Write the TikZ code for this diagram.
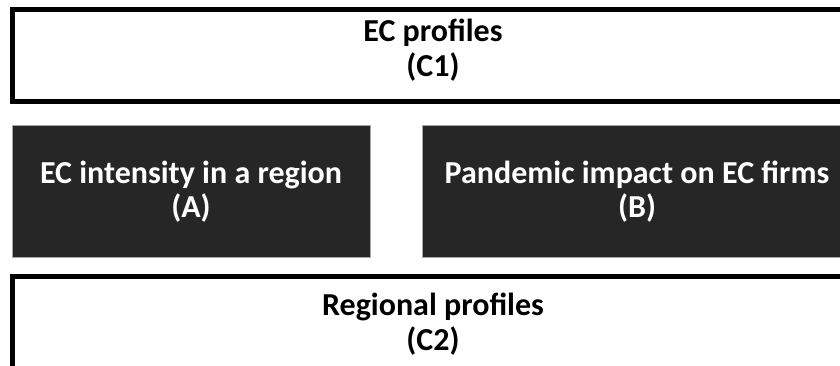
\documentclass[tikz,border=0pt]{standalone}
\usepackage{fontspec}
\setmainfont{Carlito}
\begin{document}
\begin{tikzpicture}[x=1pt,y=-1pt,
  outline/.style={draw=black, line width=5pt, fill=white, inner sep=0pt},
  darkbox/.style={draw=gray!70, line width=0.8pt, fill={rgb,255:red,38;green,38;blue,38}, inner sep=0pt},
  lbl/.style={align=center, font=\bfseries\fontsize{32}{35}\selectfont, inner sep=0pt},
]
\useasboundingbox (0,0) rectangle (840,366);
\clip (0,0) rectangle (840,366);
% top box C1
\node[outline, minimum width=843.5pt, minimum height=92pt] (c1box) at (434.25,55.5) {};
\node[lbl, anchor=base] (c1) at (433,77) {EC profiles\\(C1)};
% dark boxes
\node[darkbox, minimum width=358pt, minimum height=132pt] (abox) at (191,191) {};
\node[lbl, text=white, anchor=base] (a) at (191,218) {EC intensity in a region\\(A)};
\node[darkbox, minimum width=440pt, minimum height=132pt] (bbox) at (642,191) {};
\node[lbl, text=white, anchor=base] (b) at (637,218) {Pandemic impact on EC firms\\(B)};
% bottom box C2
\node[outline, minimum width=843.5pt, minimum height=110pt] (c2box) at (434.25,331.5) {};
\node[lbl, anchor=base] (c2) at (433,350) {Regional profiles\\(C2)};
\end{tikzpicture}
\end{document}
